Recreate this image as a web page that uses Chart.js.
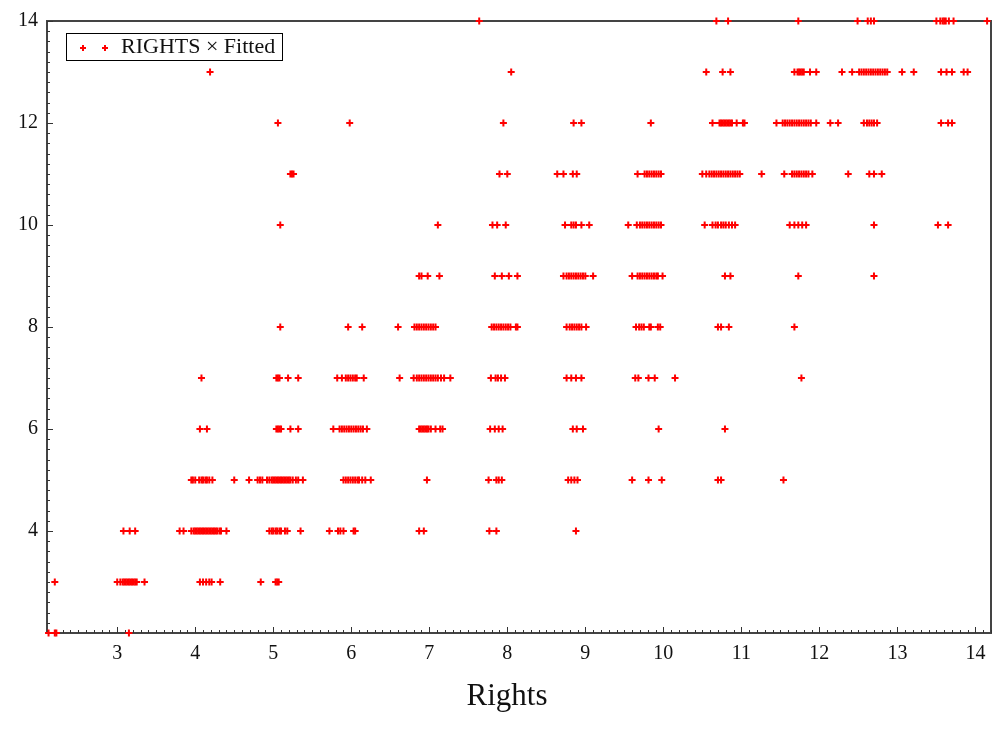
<!DOCTYPE html>
<html>
<head>
<meta charset="utf-8">
<script src="https://cdn.jsdelivr.net/npm/chart.js@4"></script>
<style>
  html, body { margin: 0; padding: 0; background: #fff; }
  #wrap { width: 997px; height: 745px; }
</style>
</head>
<body>
<div id="wrap"><canvas id="myChart" width="997" height="745"></canvas></div>
<script>
const rightsLevels = [2, 3, 4, 5, 6, 7, 8, 9, 10, 11, 12, 13, 14];

const fitted2 = [2.12, 2.2, 2.22, 3.15];
const fitted3 = [2.2, 3.0, 3.04, 3.07, 3.09, 3.11, 3.13, 3.15, 3.17, 3.19, 3.21, 3.23, 3.25, 3.35,
  4.06, 4.1, 4.14, 4.18, 4.21, 4.32, 4.84, 5.03, 5.05, 5.07];
const fitted4 = [3.08, 3.16, 3.23, 3.8, 3.85, 3.95, 3.98, 4.0, 4.02, 4.04, 4.06, 4.08, 4.1, 4.12, 4.14,
  4.16, 4.18, 4.2, 4.22, 4.24, 4.26, 4.28, 4.31, 4.33, 4.4, 4.95, 4.98, 5.0, 5.03, 5.05, 5.08, 5.1,
  5.15, 5.18, 5.35, 5.72, 5.83, 5.86, 5.9, 6.03, 6.05, 6.87, 6.93, 7.77, 7.86, 8.88];
const fitted5 = [3.95, 3.97, 4.0, 4.05, 4.08, 4.1, 4.13, 4.15, 4.18, 4.22, 4.5, 4.69, 4.8, 4.83, 4.86,
  4.92, 4.95, 4.98, 5.0, 5.02, 5.04, 5.06, 5.08, 5.1, 5.12, 5.14, 5.16, 5.18, 5.2, 5.22, 5.25, 5.29,
  5.32, 5.38, 5.9, 5.93, 5.96, 5.99, 6.02, 6.05, 6.08, 6.1, 6.14, 6.18, 6.25, 6.97, 7.76, 7.86, 7.89,
  7.93, 8.78, 8.82, 8.86, 8.9, 9.6, 9.81, 9.98, 10.7, 10.74, 11.54];
const fitted6 = [4.06, 4.15, 5.04, 5.06, 5.08, 5.1, 5.22, 5.32, 5.77, 5.85, 5.88, 5.91, 5.94, 5.97,
  6.0, 6.03, 6.06, 6.09, 6.12, 6.15, 6.2, 6.87, 6.89, 6.91, 6.93, 6.95, 6.97, 6.99, 7.02, 7.08, 7.14,
  7.17, 7.78, 7.84, 7.89, 7.94, 8.84, 8.89, 8.97, 9.94, 10.79];
const fitted7 = [4.08, 5.04, 5.06, 5.08, 5.19, 5.32, 5.82, 5.88, 5.93, 5.96, 5.99, 6.02, 6.05, 6.07,
  6.16, 6.62, 6.8, 6.84, 6.87, 6.9, 6.93, 6.96, 6.99, 7.02, 7.05, 7.08, 7.11, 7.15, 7.19, 7.27, 7.79,
  7.85, 7.88, 7.92, 7.97, 8.76, 8.82, 8.88, 8.95, 9.64, 9.68, 9.81, 9.89, 10.15, 11.77];
const fitted8 = [5.09, 5.96, 6.14, 6.6, 6.81, 6.84, 6.87, 6.9, 6.93, 6.96, 6.99, 7.02, 7.05, 7.08, 7.8,
  7.83, 7.86, 7.89, 7.92, 7.95, 7.98, 8.01, 8.04, 8.11, 8.13, 8.76, 8.8, 8.83, 8.86, 8.89, 8.92, 8.95,
  9.01, 9.65, 9.69, 9.72, 9.75, 9.82, 9.84, 9.93, 9.96, 10.7, 10.74, 10.84, 11.68];
const fitted9 = [6.87, 6.9, 6.98, 7.13, 7.84, 7.93, 8.02, 8.13, 8.72, 8.76, 8.79, 8.82, 8.85, 8.88,
  8.91, 8.94, 8.97, 9.0, 9.1, 9.6, 9.67, 9.7, 9.73, 9.76, 9.79, 9.82, 9.85, 9.88, 9.91, 9.93, 9.99,
  10.79, 10.86, 11.73, 12.7];
const fitted10 = [5.09, 7.11, 7.81, 7.87, 7.98, 8.74, 8.82, 8.85, 8.88, 8.95, 9.05, 9.55, 9.66, 9.7,
  9.73, 9.76, 9.79, 9.82, 9.85, 9.88, 9.91, 9.94, 9.97, 10.53, 10.63, 10.67, 10.7, 10.74, 10.77, 10.8,
  10.84, 10.88, 10.92, 11.62, 11.68, 11.73, 11.78, 11.83, 12.7, 13.52, 13.65];
const fitted11 = [5.22, 5.24, 5.26, 7.9, 8.0, 8.64, 8.72, 8.84, 8.89, 9.67, 9.76, 9.79, 9.82, 9.85,
  9.88, 9.91, 9.94, 9.97, 10.5, 10.55, 10.59, 10.62, 10.65, 10.68, 10.71, 10.74, 10.77, 10.8, 10.83,
  10.86, 10.89, 10.92, 10.95, 10.98, 11.26, 11.55, 11.65, 11.68, 11.71, 11.74, 11.77, 11.8, 11.83,
  11.86, 11.91, 12.37, 12.64, 12.7, 12.8];
const fitted12 = [5.06, 5.98, 7.95, 8.85, 8.95, 9.84, 10.63, 10.72, 10.74, 10.76, 10.78, 10.8, 10.82,
  10.84, 10.86, 10.88, 10.94, 11.02, 11.04, 11.45, 11.53, 11.56, 11.59, 11.62, 11.65, 11.68, 11.71,
  11.74, 11.77, 11.8, 11.83, 11.86, 11.89, 11.96, 12.14, 12.24, 12.57, 12.61, 12.64, 12.67, 12.7,
  12.74, 13.56, 13.65, 13.7];
const fitted13 = [4.19, 8.05, 10.55, 10.76, 10.86, 11.68, 11.72, 11.74, 11.76, 11.78, 11.8, 11.88,
  11.96, 12.29, 12.42, 12.51, 12.54, 12.57, 12.6, 12.63, 12.66, 12.69, 12.72, 12.75, 12.78, 12.81,
  12.84, 12.87, 13.06, 13.21, 13.56, 13.63, 13.7, 13.85, 13.9];
const fitted14 = [7.64, 10.68, 10.83, 11.73, 12.49, 12.62, 12.66, 12.7, 13.5, 13.55, 13.58, 13.6,
  13.62, 13.66, 13.72, 14.15];

const fittedRows = [fitted2, fitted3, fitted4, fitted5, fitted6, fitted7, fitted8, fitted9,
  fitted10, fitted11, fitted12, fitted13, fitted14];

const xTickLabels = [3, 4, 5, 6, 7, 8, 9, 10, 11, 12, 13, 14];
const yTickLabels = [4, 6, 8, 10, 12, 14];
const seriesName = "RIGHTS \u00d7 Fitted";
const xTitle = "Rights";

const puntos = [];
rightsLevels.forEach((nivel, i) => {
  fittedRows[i].forEach((v) => puntos.push({ x: v, y: nivel }));
});

const serif = "'Liberation Serif', 'DejaVu Serif', serif";

// frame + inward tick marks, drawn under the points
const marco = {
  id: "marco",
  beforeDatasetsDraw(chart) {
    const { ctx, chartArea: a, scales } = chart;
    const x = scales.x, y = scales.y;
    ctx.save();
    ctx.strokeStyle = "#444";
    ctx.lineWidth = 2;
    ctx.strokeRect(a.left, a.top, a.right - a.left, a.bottom - a.top);
    ctx.lineWidth = 1;
    ctx.strokeStyle = "#333";
    ctx.beginPath();
    for (let i = 21; i <= 142; i++) {
      const px = Math.round(x.getPixelForValue(i / 10)) + 0.5;
      const len = i % 10 === 0 ? 6 : 3;
      ctx.moveTo(px, a.bottom);
      ctx.lineTo(px, a.bottom - len);
    }
    for (let i = 10; i <= 70; i++) {
      const py = Math.round(y.getPixelForValue(i / 5)) + 0.5;
      const len = i % 10 === 0 ? 6 : 3;
      ctx.moveTo(a.left, py);
      ctx.lineTo(a.left + len, py);
    }
    ctx.stroke();
    ctx.restore();
  },
  afterDraw(chart) {
    const ctx = chart.ctx;
    ctx.save();
    // legend box
    ctx.fillStyle = "#fff";
    ctx.fillRect(66, 33, 216, 27);
    ctx.strokeStyle = "#000";
    ctx.lineWidth = 1;
    ctx.strokeRect(66.5, 33.5, 216, 27);
    ctx.strokeStyle = "#ff0000";
    ctx.lineWidth = 2;
    [83, 105].forEach((cx) => {
      ctx.beginPath();
      ctx.moveTo(cx - 3, 48); ctx.lineTo(cx + 3, 48);
      ctx.moveTo(cx, 45); ctx.lineTo(cx, 51);
      ctx.stroke();
    });
    ctx.fillStyle = "#111";
    ctx.font = "22px " + serif;
    ctx.textAlign = "left";
    ctx.textBaseline = "middle";
    ctx.fillText(chart.data.datasets[0].label, 121, 47);
    // axis title
    ctx.font = "31px " + serif;
    ctx.textAlign = "center";
    ctx.fillText(xTitle, 507, 697);
    ctx.restore();
  }
};

const config = {
  type: "scatter",
  data: {
    datasets: [{
      label: seriesName,
      data: puntos,
      pointStyle: "cross",
      radius: 3.5,
      borderWidth: 2,
      borderColor: "#ff0000",
      backgroundColor: "#ff0000",
      clip: false
    }]
  },
  options: {
    responsive: false,
    animation: false,
    layout: { padding: { top: 21, right: 1, left: 0, bottom: 0 } },
    plugins: { legend: { display: false }, tooltip: { enabled: false } },
    scales: {
      x: {
        type: "linear",
        min: 2.1,
        max: 14.2,
        afterBuildTicks: (s) => { s.ticks = xTickLabels.map((v) => ({ value: v })); },
        afterFit: (s) => { s.height = 112; s.paddingLeft = 0; s.paddingRight = 0; },
        grid: { display: false, drawTicks: false },
        border: { display: false },
        ticks: { color: "#111", font: { family: serif, size: 20 }, padding: 9, maxRotation: 0 }
      },
      y: {
        type: "linear",
        min: 2,
        max: 14,
        afterBuildTicks: (s) => { s.ticks = yTickLabels.map((v) => ({ value: v })); },
        afterFit: (s) => { s.width = 47; },
        grid: { display: false, drawTicks: false },
        border: { display: false },
        ticks: { color: "#111", font: { family: serif, size: 20 }, padding: 9 }
      }
    }
  },
  plugins: [marco]
};

new Chart(document.getElementById("myChart"), config);
</script>
</body>
</html>
